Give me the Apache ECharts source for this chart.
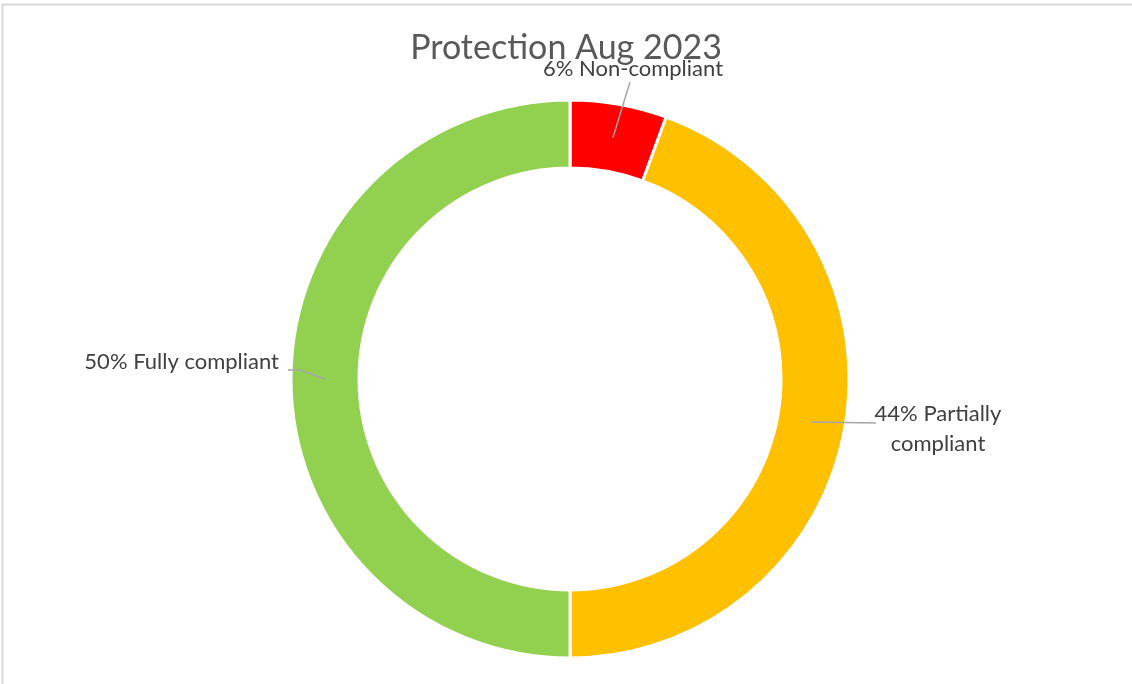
<!DOCTYPE html>
<html>
<head>
<meta charset="utf-8">
<script src="https://cdn.jsdelivr.net/npm/echarts@6/dist/echarts.min.js"></script>
<style>
  html, body { margin: 0; padding: 0; background: #fff; }
  #chart { width: 1132px; height: 684px; }
</style>
</head>
<body>
<div id="chart"></div>
<script>
// data (shares in %, labels show them rounded)
const categories = ['Non-compliant', 'Partially compliant', 'Fully compliant']
const labelNames = ['Non-compliant', 'Partially\ncompliant', 'Fully compliant']
const values = [5.6, 44.4, 50]
const colors = ['#FF0000', '#FFC000', '#92D050']

const cx = 570
const cy = 379
const rIn = 211
const rOut = 279

// where each label sits, and the bend of its leader line
const labelSpots = [
  { x: 633, y: 69, align: 'center', bend: [630, 82] },
  { x: 938, y: 429, align: 'center', bend: [876, 423] },
  { x: 279, y: 362, align: 'right', bend: [300, 370], end: [288, 370] }
]

const chart = echarts.init(document.getElementById('chart'))

const total = values.reduce((a, b) => a + b, 0)
// angle (from top, clockwise) of each slice middle
const midAngles = []
let acc = 0
values.forEach(v => {
  midAngles.push((acc + v / 2) / total * Math.PI * 2)
  acc += v
})

// leader lines start in the middle of the ring, like the original
const leaderLines = labelSpots.map((s, i) => {
  const rm = (rIn + rOut) / 2
  const a = midAngles[i]
  const start = [cx + rm * Math.sin(a), cy - rm * Math.cos(a)]
  return {
    type: 'polyline',
    z: 100,
    silent: true,
    shape: { points: [start, s.bend, s.end || s.bend] },
    style: { stroke: '#a6a6a6', lineWidth: 1.5, fill: null }
  }
})

const option = {
  backgroundColor: '#fff',
  title: {
    text: 'Protection Aug 2023',
    left: 'center',
    top: 26,
    textStyle: {
      fontFamily: 'Lato',
      fontWeight: 'normal',
      fontSize: 34,
      color: '#595959'
    }
  },
  graphic: [{
    type: 'rect',
    shape: { x: 2.5, y: 4.5, width: 1140, height: 700 },
    style: { fill: 'none', stroke: '#d9d9d9', lineWidth: 2 },
    silent: true
  }].concat(leaderLines),
  series: [{
    type: 'pie',
    center: [cx, cy],
    radius: [rIn, rOut],
    startAngle: 90,
    clockwise: true,
    avoidLabelOverlap: false,
    itemStyle: { borderColor: '#fff', borderWidth: 3 },
    data: categories.map((name, i) => ({
      name: name,
      value: values[i],
      itemStyle: { color: colors[i] }
    })),
    label: {
      show: true,
      formatter: p => Math.round(p.percent) + '% ' + labelNames[p.dataIndex],
      fontFamily: 'Lato',
      fontSize: 22,
      lineHeight: 30,
      color: '#404040'
    },
    labelLine: { show: false },
    labelLayout: params => {
      const s = labelSpots[params.dataIndex]
      return {
        x: s.x,
        y: s.y,
        align: s.align,
        verticalAlign: 'middle'
      }
    },
    emphasis: { disabled: true }
  }]
}

chart.setOption(option)
</script>
</body>
</html>
